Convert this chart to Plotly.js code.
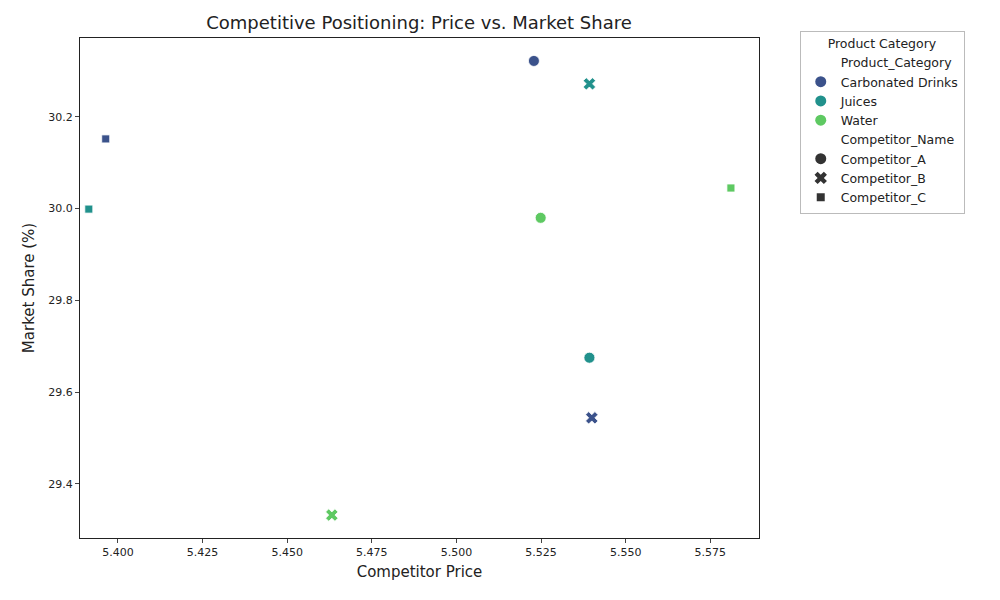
<!DOCTYPE html>
<html><head><meta charset="utf-8">
<script src="https://cdn.plot.ly/plotly-3.0.1.min.js"></script>
<style>body{margin:0}#plot{width:1000px;height:600px}</style>
</head><body><div id="plot"></div>
<script>
// values
const categories = ['Carbonated Drinks', 'Juices', 'Water'];
const competitors = ['Competitor_A', 'Competitor_B', 'Competitor_C'];
const pointCategory = ['Carbonated Drinks', 'Juices', 'Carbonated Drinks', 'Juices', 'Water', 'Water', 'Juices', 'Carbonated Drinks', 'Water'];
const pointCompetitor = ['Competitor_A', 'Competitor_B', 'Competitor_C', 'Competitor_C', 'Competitor_A', 'Competitor_C', 'Competitor_A', 'Competitor_B', 'Competitor_B'];
const price = [5.5229, 5.5393, 5.3964, 5.3914, 5.5249, 5.5811, 5.5393, 5.5400, 5.4632];
const share = [30.322, 30.272, 30.152, 29.999, 29.980, 30.045, 29.675, 29.544, 29.332];

const COLORS = { 'Carbonated Drinks': '#3b528b', 'Juices': '#21918c', 'Water': '#5ec962' };
const SYMBOLS = { Competitor_A: 'circle', Competitor_B: 'x', Competitor_C: 'square' };
const SIZES = { Competitor_A: 11, Competitor_B: 11, Competitor_C: 8 };

const traces = [];
price.forEach((p, i) => {
  const comp = pointCompetitor[i];
  traces.push({
    x: [p], y: [share[i]], mode: 'markers', type: 'scatter', showlegend: false,
    marker: { symbol: SYMBOLS[comp], size: SIZES[comp], color: COLORS[pointCategory[i]], line: { color: 'white', width: 0.8 } }
  });
});

function heading(name) {
  traces.push({ x: [null], y: [null], mode: 'markers', name: name, marker: { color: 'rgba(0,0,0,0)', size: 1 } });
}
heading('Product_Category');
categories.forEach(c => traces.push({ x: [null], y: [null], mode: 'markers', name: c, marker: { color: COLORS[c], size: 11, symbol: 'circle' } }));
heading('Competitor_Name');
competitors.forEach(c => traces.push({ x: [null], y: [null], mode: 'markers', name: c,
  marker: { color: '#333', size: SIZES[c], symbol: SYMBOLS[c] } }));

const layout = {
  width: 1000, height: 600,
  margin: { l: 80, r: 241, t: 38, b: 62 },
  paper_bgcolor: 'white', plot_bgcolor: 'white',
  font: { family: 'DejaVu Sans', size: 12, color: '#222' },
  title: { text: 'Competitive Positioning: Price vs. Market Share', x: 0.419, xanchor: 'center', y: 0.972, font: { size: 18 } },
  xaxis: {
    range: [5.3888, 5.5894], tickvals: [5.4, 5.425, 5.45, 5.475, 5.5, 5.525, 5.55, 5.575],
    tickformat: '.3f', showgrid: false, zeroline: false, showline: true, mirror: true, linecolor: '#222',
    ticks: 'outside', ticklen: 4, tickfont: { size: 11 },
    title: { text: 'Competitor Price', font: { size: 15 }, standoff: 8 }
  },
  yaxis: {
    range: [29.282, 30.372], tickvals: [29.4, 29.6, 29.8, 30.0, 30.2], tickformat: '.1f',
    showgrid: false, zeroline: false, showline: true, mirror: true, linecolor: '#222',
    ticks: 'outside', ticklen: 4, tickfont: { size: 11 },
    title: { text: 'Market Share (%)', font: { size: 15 }, standoff: 10 }
  },
  showlegend: true,
  legend: {
    x: 1.06, y: 1.015, xanchor: 'left', yanchor: 'top', bgcolor: 'white',
    bordercolor: '#bbb', borderwidth: 1, font: { size: 12.5 }, tracegroupgap: 0,
    title: { text: 'Product Category', side: 'top center', font: { size: 12.5 } }
  }
};
Plotly.newPlot('plot', traces, layout, { displayModeBar: false });
</script></body></html>
